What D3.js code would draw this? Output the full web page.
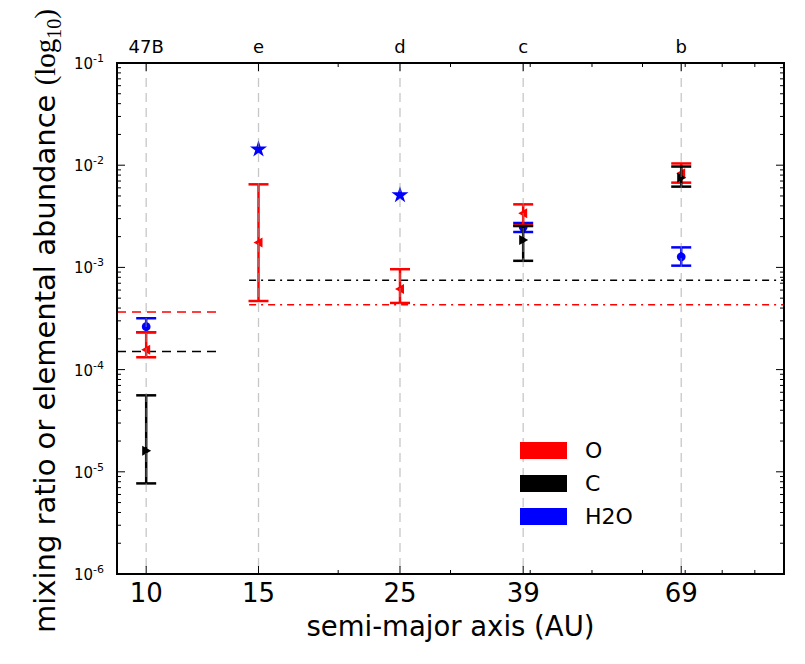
<!DOCTYPE html>
<html>
<head>
<meta charset="utf-8">
<script src="https://cdn.jsdelivr.net/npm/d3@7"></script>
<style>
  body { margin: 0; background: #fff; }
  text { font-family: "DejaVu Sans", sans-serif; }
</style>
</head>
<body>
<svg id="chart" width="805" height="664"></svg>
<script>
// planets and their semi-major axes (AU)
let planets = ["47B", "e", "d", "c", "b"];
let axisAU = [10, 15, 25, 39, 69];
let xTickLabels = ["10", "15", "25", "39", "69"];
let yTickValues = [1e-1, 1e-2, 1e-3, 1e-4, 1e-5, 1e-6];

// O abundance with error range
let oValue = [1.56e-4, 1.75e-3, 6.15e-4, 3.38e-3, 8.34e-3];
let oLow = [1.32e-4, 4.69e-4, 4.49e-4, 2.58e-3, 6.75e-3];
let oHigh = [2.32e-4, 6.5e-3, 9.6e-4, 4.14e-3, 1.04e-2];

// C abundance (not measured for e and d)
let cValue = [1.61e-5, null, null, 1.85e-3, 7.55e-3];
let cLow = [7.7e-6, null, null, 1.16e-3, 6.17e-3];
let cHigh = [5.6e-5, null, null, 2.54e-3, 9.7e-3];

// H2O mixing ratio (stars = no error bar)
let h2oValue = [2.63e-4, 1.43e-2, 5.1e-3, 2.48e-3, 1.27e-3];
let h2oLow = [2.32e-4, null, null, 2.22e-3, 1.04e-3];
let h2oHigh = [3.18e-4, null, null, 2.72e-3, 1.57e-3];
let h2oMarker = ["circle", "star", "star", "circle", "circle"];

// stellar reference levels
let star47B = { O: 3.67e-4, C: 1.5e-4, from: 9, to: 12.9 };
let starHR = { O: 4.3e-4, C: 7.5e-4, from: 14.5, to: 100 };

let legendNames = ["O", "C", "H2O"];
let legendColors = ["red", "black", "blue"];

(() => {
    let pLeft = 117, pRight = 784, pTop = 63, pBottom = 574;

    let svg = d3.select("#chart");
    let x = d3.scaleLog().domain([9, 100]).range([pLeft, pRight]);
    let y = d3.scaleLog().domain([1e-6, 1e-1]).range([pBottom, pTop]);

    // reference lines
    let refs = svg.append("g").attr("fill", "none").attr("stroke-width", 1.5);
    let refLine = (ref, key, color, dash) => {
        refs.append("line")
            .attr("x1", x(ref.from)).attr("x2", x(ref.to))
            .attr("y1", y(ref[key])).attr("y2", y(ref[key]))
            .attr("stroke", color).attr("stroke-dasharray", dash);
    };
    refLine(star47B, "O", "red", "9,6");
    refLine(star47B, "C", "black", "9,6");
    refLine(starHR, "C", "black", "7,5,2,5");
    refLine(starHR, "O", "red", "7,5,2,5");

    let triangle = (dir, s) => dir === "left"
        ? `M${-s},0L${s * 0.8},${-s}L${s * 0.8},${s}Z`
        : `M${s},0L${-s * 0.8},${-s}L${-s * 0.8},${s}Z`;

    let series = [
        { color: "blue", value: h2oValue, low: h2oLow, high: h2oHigh, marker: i => h2oMarker[i] },
        { color: "red", value: oValue, low: oLow, high: oHigh, marker: () => "left" },
        { color: "black", value: cValue, low: cLow, high: cHigh, marker: () => "right" }
    ];

    let data = svg.append("g");
    series.forEach(s => {
        s.value.forEach((v, i) => {
            if (v == null) return;
            let px = x(axisAU[i]);
            let g = data.append("g");
            if (s.low[i] != null) {
                g.append("line")
                    .attr("x1", px).attr("x2", px)
                    .attr("y1", y(s.low[i])).attr("y2", y(s.high[i]))
                    .attr("stroke", s.color).attr("stroke-width", 2.5);
                [s.low[i], s.high[i]].forEach(e => {
                    g.append("line")
                        .attr("x1", px - 10).attr("x2", px + 10)
                        .attr("y1", y(e)).attr("y2", y(e))
                        .attr("stroke", s.color).attr("stroke-width", 2.5);
                });
            }
            let m = s.marker(i);
            let d;
            if (m === "circle") d = d3.symbol(d3.symbolCircle, 60)();
            else if (m === "star") d = d3.symbol(d3.symbolStar, 90)();
            else d = triangle(m, 5);
            g.append("path")
                .attr("d", d)
                .attr("transform", `translate(${px},${y(v)})`)
                .attr("fill", s.color);
        });
    });

    // vertical dashed guides at each planet
    svg.append("g").selectAll("line")
        .data(axisAU)
        .join("line")
        .attr("x1", d => x(d)).attr("x2", d => x(d))
        .attr("y1", pTop).attr("y2", pBottom)
        .attr("stroke", "#999").attr("stroke-opacity", 0.55)
        .attr("stroke-width", 1.3).attr("stroke-dasharray", "9,6");

    // ticks on all four sides, pointing inward
    let ticks = svg.append("g").attr("stroke", "black").attr("stroke-width", 1);
    let yMinor = [];
    for (let e = -6; e < -1; e++) for (let k = 2; k <= 9; k++) yMinor.push(k * Math.pow(10, e));
    let xMinor = [20, 30, 40, 50, 60, 70, 80, 90];

    let hTick = (v, len) => {
        ticks.append("line").attr("x1", pLeft).attr("x2", pLeft + len).attr("y1", y(v)).attr("y2", y(v));
        ticks.append("line").attr("x1", pRight).attr("x2", pRight - len).attr("y1", y(v)).attr("y2", y(v));
    };
    let vTick = (v, len) => {
        ticks.append("line").attr("x1", x(v)).attr("x2", x(v)).attr("y1", pBottom).attr("y2", pBottom - len);
        ticks.append("line").attr("x1", x(v)).attr("x2", x(v)).attr("y1", pTop).attr("y2", pTop + len);
    };
    yTickValues.forEach(v => hTick(v, 8));
    yMinor.forEach(v => hTick(v, 4));
    axisAU.forEach(v => vTick(v, 8));
    xMinor.forEach(v => vTick(v, 4));

    // frame
    svg.append("rect")
        .attr("x", pLeft).attr("y", pTop)
        .attr("width", pRight - pLeft).attr("height", pBottom - pTop)
        .attr("fill", "none").attr("stroke", "black").attr("stroke-width", 2);

    // y tick labels 10^-n
    yTickValues.forEach(v => {
        let t = svg.append("text")
            .attr("x", 104).attr("y", y(v) + 6)
            .attr("text-anchor", "end").attr("font-size", 15);
        t.append("tspan").text("10");
        t.append("tspan").attr("dy", -7).attr("font-size", 11).text(Math.round(Math.log10(v)));
    });

    // x tick labels
    svg.append("g").selectAll("text")
        .data(axisAU)
        .join("text")
        .attr("x", d => x(d)).attr("y", 602)
        .attr("text-anchor", "middle").attr("font-size", 26)
        .text((d, i) => xTickLabels[i]);

    // planet names on top
    svg.append("g").selectAll("text")
        .data(axisAU)
        .join("text")
        .attr("x", d => x(d)).attr("y", 53)
        .attr("text-anchor", "middle").attr("font-size", 18)
        .text((d, i) => planets[i]);

    // axis titles
    svg.append("text")
        .attr("x", (pLeft + pRight) / 2).attr("y", 636)
        .attr("text-anchor", "middle").attr("font-size", 27.5)
        .text("semi-major axis (AU)");

    let yl = svg.append("text")
        .attr("transform", "translate(55,633) rotate(-90)")
        .attr("text-anchor", "start").attr("font-size", 29);
    yl.append("tspan").text("mixing ratio or elemental abundance ");
    yl.append("tspan").attr("font-family", "Liberation Serif").text("(log");
    yl.append("tspan").attr("font-family", "Liberation Serif").attr("font-size", 20).attr("dy", 6).text("10");
    yl.append("tspan").attr("font-family", "Liberation Serif").attr("dy", -6).text(")");

    // legend
    let legend = svg.append("g");
    legendNames.forEach((n, i) => {
        legend.append("rect")
            .attr("x", 520).attr("y", 442 + i * 33)
            .attr("width", 47).attr("height", 17)
            .attr("fill", legendColors[i]);
        legend.append("text")
            .attr("x", 585).attr("y", 458 + i * 33)
            .attr("font-size", 22)
            .text(n);
    });
})();
</script>
</body>
</html>
